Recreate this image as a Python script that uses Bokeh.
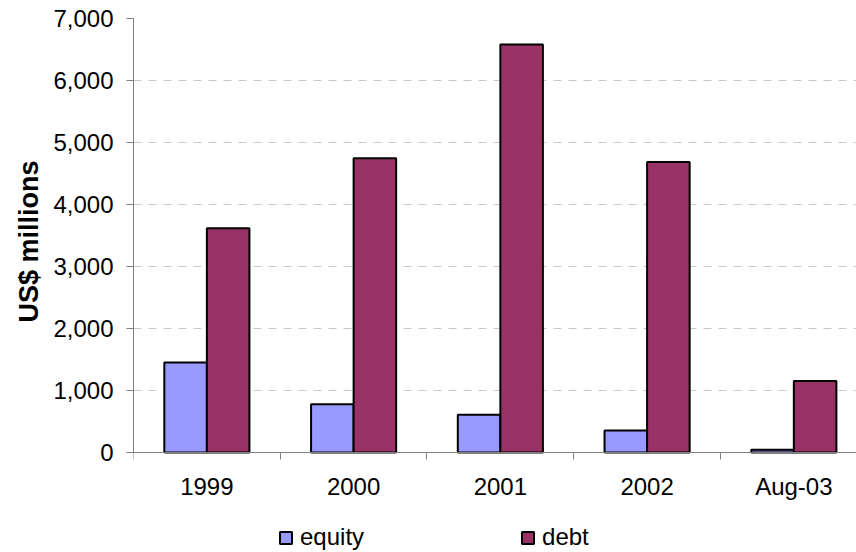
import numpy as np
from bokeh.plotting import figure
from bokeh.models import (Range1d, FixedTicker, NumeralTickFormatter, Legend, LegendItem, Title)
from bokeh.embed import file_html
from bokeh.resources import INLINE

categories = ["1999", "2000", "2001", "2002", "Aug-03"]
equity = [1450, 780, 607, 355, 45]
debt = [3615, 4745, 6580, 4684, 1155]
y_ticks = [0, 1000, 2000, 3000, 4000, 5000, 6000, 7000]

FONT = "Liberation Sans"
idx = np.arange(len(categories))
centers = idx + 0.5
bar_w = 0.29

# frame spans the full height below the top border; x axis pinned at y=0
frame_h = 552 - 18
px_per_unit = 434.0 / 7000
y_lo = 7000 - frame_h / px_per_unit

p = figure(width=856, height=552, output_backend="svg", toolbar_location=None,
           x_range=Range1d(0, 4.927), y_range=Range1d(y_lo, 7000),
           min_border_left=133, min_border_right=0, min_border_top=18,
           min_border_bottom=0)
p.outline_line_color = None
p.background_fill_color = "white"
p.border_fill_color = "white"

r_eq = p.vbar(x=centers - bar_w / 2, top=equity, width=bar_w, bottom=0,
              fill_color="#9999FF", line_color="black", line_width=2)
r_de = p.vbar(x=centers + bar_w / 2, top=debt, width=bar_w, bottom=0,
              fill_color="#993366", line_color="black", line_width=2)

# x axis
xa = p.xaxis[0]
xa.fixed_location = 0
xa.ticker = FixedTicker(ticks=list(centers), minor_ticks=list(range(len(categories) + 1)))
xa.major_label_overrides = {float(c): lab for c, lab in zip(centers, categories)}
xa.major_tick_line_color = None
xa.major_tick_out = 0
xa.major_tick_in = 0
xa.minor_tick_out = 7
xa.minor_tick_in = 0
xa.minor_tick_line_color = "#808080"
xa.axis_line_color = "#808080"
xa.major_label_text_font = FONT
xa.major_label_text_font_size = "24px"
xa.major_label_text_color = "black"
xa.major_label_standoff = 13

# y axis
ya = p.yaxis[0]
ya.bounds = (0, 7000)
ya.ticker = FixedTicker(ticks=y_ticks)
ya.formatter = NumeralTickFormatter(format="0,0")
ya.major_tick_out = 7
ya.major_tick_in = 0
ya.major_tick_line_color = "#808080"
ya.minor_tick_line_color = None
ya.axis_line_color = "#808080"
ya.major_label_text_font = FONT
ya.major_label_text_font_size = "24px"
ya.major_label_text_color = "black"
ya.major_label_standoff = 13

ytitle = Title(text="US$ millions", align="right", offset=142,
               text_font=FONT, text_font_size="27px", text_font_style="bold",
               text_color="black", standoff=14)
p.add_layout(ytitle, "left")

p.xgrid.grid_line_color = None
p.ygrid.grid_line_color = "#c8c8c8"
p.ygrid.grid_line_dash = "8 7"
p.ygrid.grid_line_width = 1

legend = Legend(items=[LegendItem(label="equity", renderers=[r_eq]),
                       LegendItem(label="debt", renderers=[r_de])],
                orientation="horizontal", location=(145, 1),
                spacing=156, padding=0, margin=0, label_standoff=7,
                glyph_width=15, glyph_height=15,
                border_line_color=None, background_fill_alpha=0,
                label_text_font=FONT, label_text_font_size="24px",
                label_text_color="black")
p.add_layout(legend, "center")

open("out.html", "w").write(file_html(p, INLINE))
